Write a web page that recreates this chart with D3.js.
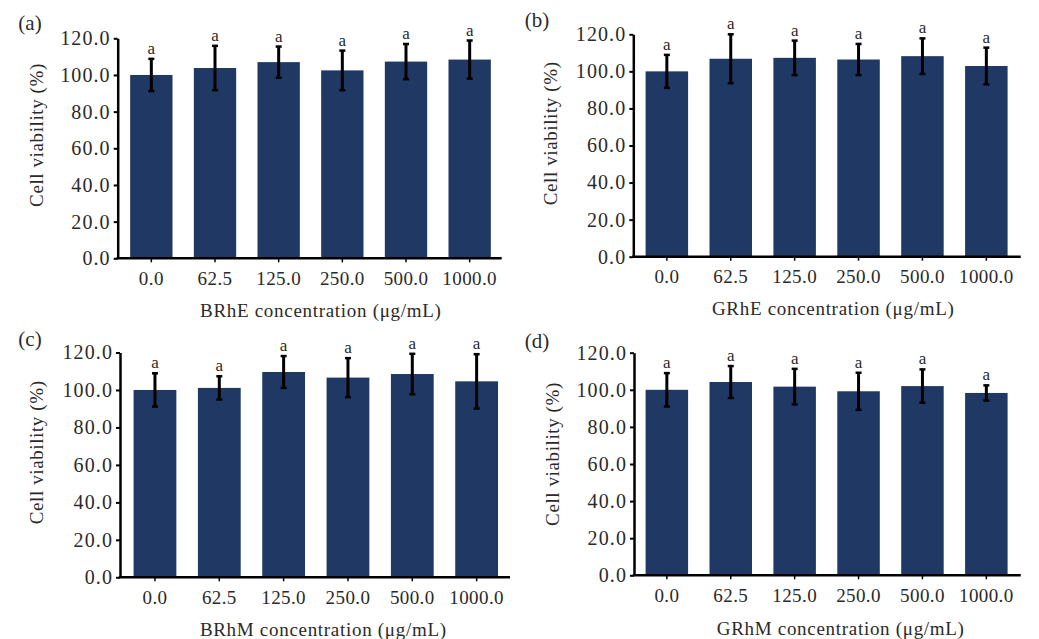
<!DOCTYPE html>
<html>
<head>
<meta charset="utf-8">
<script src="https://cdn.jsdelivr.net/npm/d3@7"></script>
<style>
  html, body { margin: 0; padding: 0; background: #fff; }
  svg { display: block; }
  text { font-family: "Liberation Serif", "Times New Roman", serif; fill: #2a2a2a; }
</style>
</head>
<body>
<svg id="chart" width="1039" height="639"></svg>
<script>
// ---- data ----
const categories = ["0.0", "62.5", "125.0", "250.0", "500.0", "1000.0"];
const yTickValues = [0, 20, 40, 60, 80, 100, 120];
const panelLabels = ["(a)", "(b)", "(c)", "(d)"];
const extractNames = ["BRhE", "GRhE", "BRhM", "GRhM"];
const meanA = [100.0, 103.8, 107.0, 102.5, 107.3, 108.4];
const errA  = [8.8, 12.1, 8.5, 10.8, 9.6, 10.4];
const meanB = [100.0, 106.8, 107.3, 106.4, 108.2, 102.9];
const errB  = [8.9, 13.2, 9.3, 8.4, 9.6, 9.9];
const meanC = [100.0, 101.1, 109.6, 106.6, 108.5, 104.6];
const errC  = [8.9, 6.2, 8.5, 10.4, 10.8, 14.5];
const meanD = [100.0, 104.2, 101.7, 99.2, 102.0, 98.3];
const errD  = [9.0, 8.6, 9.6, 10.0, 9.0, 4.1];
const sigLetters = ["a", "a", "a", "a", "a", "a"];

const means = [meanA, meanB, meanC, meanD];
const errs = [errA, errB, errC, errD];

// ---- layout (pixel geometry) ----
const layouts = [
  { ax: 117.7, bx0: 119.5, bx1: 501.5, axEnd: 501.7, yTop: 38.3, yZero: 258.3,
    lab: [30, 23], yt: [36.7, 135], xt: [320.8, 310] },
  { ax: 633.3, bx0: 634.9, bx1: 1018.3, axEnd: 1020.7, yTop: 34.3, yZero: 256.7,
    lab: [537, 20], yt: [31.7 + 519, 133.3], xt: [833.2, 308] },
  { ax: 120, bx0: 122.8, bx1: 508.8, axEnd: 510, yTop: 352.5, yZero: 577.3,
    lab: [30, 339], yt: [36.7, 452.3], xt: [323.3, 629] },
  { ax: 634, bx0: 634.9, bx1: 1018.3, axEnd: 1020.7, yTop: 352.7, yZero: 575.3,
    lab: [537, 340.7], yt: [552.3, 454], xt: [840.7, 628.3] }
];

const barColor = "#1f3864";
const svg = d3.select("#chart");

layouts.forEach((L, p) => {
  const g = svg.append("g");
  const x = d3.scaleBand().domain(categories).range([L.bx0, L.bx1])
    .paddingInner(0.335).paddingOuter(0.1675);
  const y = d3.scaleLinear().domain([0, 120]).range([L.yZero, L.yTop]);

  const rows = categories.map((c, i) => ({ c, m: means[p][i], e: errs[p][i], s: sigLetters[i] }));

  // bars
  g.selectAll("rect.bar").data(rows).join("rect")
    .attr("class", "bar")
    .attr("x", d => x(d.c))
    .attr("width", x.bandwidth())
    .attr("y", d => y(d.m))
    .attr("height", d => y(0) - y(d.m))
    .attr("fill", barColor);

  // error bars
  const eb = g.selectAll("g.eb").data(rows).join("g").attr("class", "eb");
  eb.append("line")
    .attr("x1", d => x(d.c) + x.bandwidth() / 2)
    .attr("x2", d => x(d.c) + x.bandwidth() / 2)
    .attr("y1", d => y(d.m + d.e))
    .attr("y2", d => y(d.m - d.e))
    .attr("stroke", "#000").attr("stroke-width", 3);
  [1, -1].forEach(sgn => {
    eb.append("line")
      .attr("x1", d => x(d.c) + x.bandwidth() / 2 - 3)
      .attr("x2", d => x(d.c) + x.bandwidth() / 2 + 3)
      .attr("y1", d => y(d.m + sgn * d.e))
      .attr("y2", d => y(d.m + sgn * d.e))
      .attr("stroke", "#000").attr("stroke-width", 2.5);
  });
  // significance letters
  g.selectAll("text.sig").data(rows).join("text")
    .attr("class", "sig")
    .attr("x", d => x(d.c) + x.bandwidth() / 2)
    .attr("y", d => y(d.m + d.e) - 5)
    .attr("text-anchor", "middle")
    .attr("font-size", 17)
    .text(d => d.s);

  // y axis
  const yAxis = d3.axisLeft(y).tickValues(yTickValues).tickFormat(d3.format(".1f"))
    .tickSize(4).tickSizeOuter(0).tickPadding(3);
  const ya = g.append("g").attr("transform", `translate(${L.ax},0)`).call(yAxis);
  ya.select(".domain").attr("stroke", "#000").attr("stroke-width", 2.5);
  ya.selectAll(".tick line").attr("stroke", "#000").attr("stroke-width", 2);
  ya.selectAll(".tick text").attr("font-size", 20).attr("letter-spacing", "1.1px")
    .attr("fill", "#2a2a2a").attr("font-family", "Liberation Serif, serif");

  // x axis
  const xAxis = d3.axisBottom(x).tickSize(4).tickSizeOuter(0).tickPadding(9);
  const xa = g.append("g").attr("transform", `translate(0,${L.yZero})`).call(xAxis);
  xa.select(".domain").attr("d", `M${L.ax - 1.2},0H${L.axEnd}`)
    .attr("stroke", "#000").attr("stroke-width", 2.5);
  xa.selectAll(".tick line").attr("stroke", "#000").attr("stroke-width", 1.5);
  xa.selectAll(".tick text").attr("font-size", 19).attr("letter-spacing", "0.4px")
    .attr("fill", "#2a2a2a").attr("font-family", "Liberation Serif, serif");

  // axis titles
  g.append("text")
    .attr("transform", `translate(${L.yt[0]},${L.yt[1]}) rotate(-90)`)
    .attr("text-anchor", "middle").attr("dominant-baseline", "central")
    .attr("font-size", 19).attr("letter-spacing", "0.6px")
    .text("Cell viability (%)");
  g.append("text")
    .attr("x", L.xt[0]).attr("y", L.xt[1])
    .attr("text-anchor", "middle").attr("dominant-baseline", "central")
    .attr("font-size", 19).attr("letter-spacing", "0.7px")
    .text(`${extractNames[p]} concentration (μg/mL)`);

  // panel label
  g.append("text")
    .attr("x", L.lab[0]).attr("y", L.lab[1])
    .attr("text-anchor", "middle").attr("dominant-baseline", "central")
    .attr("font-size", 21)
    .text(panelLabels[p]);
});
</script>
</body>
</html>
